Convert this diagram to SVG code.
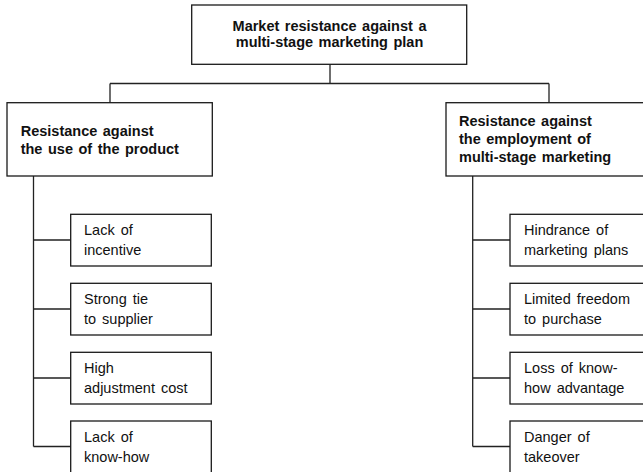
<svg xmlns="http://www.w3.org/2000/svg" width="643" height="472" viewBox="0 0 643 472">
<style>
.box{fill:#fff;stroke:#1a1a1a;stroke-width:1.3}
.con{fill:none;stroke:#222;stroke-width:1.3}
.b{font-family:"Liberation Sans",Arial,sans-serif;font-size:14.5px;font-weight:bold;fill:#111;word-spacing:1.5px}
.r{font-family:"Liberation Sans",Arial,sans-serif;font-size:14.5px;fill:#111;word-spacing:2px}
.c{text-anchor:middle}
</style>
<rect width="643" height="472" fill="#fff"/>
<g id="connectors">
<path class="con" d="M330,64.3V83.5M110,83.5H549M110,83.5V102.7M549,83.5V102.7"/>
<path class="con" d="M33.5,176V446.5M33.5,240H70.7M33.5,309H70.7M33.5,378H70.7M33.5,446.5H70.7"/>
<path class="con" d="M472.7,176V446.5M472.7,240H510M472.7,309H510M472.7,378H510M472.7,446.5H510"/>
</g>
<g id="root">
<rect class="box" x="191.7" y="5" width="275" height="59.3"/>
<text class="b c" x="329.5" y="30.5">Market resistance against a</text>
<text class="b c" x="329.5" y="47">multi-stage marketing plan</text>
</g>
<g id="use">
<rect class="box" x="7" y="102.7" width="205.3" height="73.3"/>
<text class="b" x="20.7" y="135.5">Resistance against</text>
<text class="b" x="20.7" y="153.5">the use of the product</text>
</g>
<g id="employment">
<rect class="box" x="446" y="102.7" width="220" height="73.3"/>
<text class="b" x="459" y="126">Resistance against</text>
<text class="b" x="459" y="144">the employment of</text>
<text class="b" x="459" y="162">multi-stage marketing</text>
</g>
<g id="l1">
<rect class="box" x="70.7" y="214.3" width="140.6" height="51.7"/>
<text class="r" x="84" y="235.3">Lack of</text>
<text class="r" x="84" y="255">incentive</text>
</g>
<g id="l2">
<rect class="box" x="70.7" y="283.3" width="140.6" height="51.7"/>
<text class="r" x="84" y="304.3">Strong tie</text>
<text class="r" x="84" y="324">to supplier</text>
</g>
<g id="l3">
<rect class="box" x="70.7" y="352.3" width="140.6" height="51.7"/>
<text class="r" x="84" y="373.3">High</text>
<text class="r" x="84" y="393">adjustment cost</text>
</g>
<g id="l4">
<rect class="box" x="70.7" y="421" width="140.6" height="52"/>
<text class="r" x="84" y="442">Lack of</text>
<text class="r" x="84" y="461.7">know-how</text>
</g>
<g id="r1">
<rect class="box" x="510" y="214.3" width="160" height="51.7"/>
<text class="r" x="524" y="235.3">Hindrance of</text>
<text class="r" x="524" y="255">marketing plans</text>
</g>
<g id="r2">
<rect class="box" x="510" y="283.3" width="160" height="51.7"/>
<text class="r" x="524" y="304.3">Limited freedom</text>
<text class="r" x="524" y="324">to purchase</text>
</g>
<g id="r3">
<rect class="box" x="510" y="352.3" width="160" height="51.7"/>
<text class="r" x="524" y="373.3">Loss of know-</text>
<text class="r" x="524" y="393">how advantage</text>
</g>
<g id="r4">
<rect class="box" x="510" y="421" width="160" height="52"/>
<text class="r" x="524" y="442">Danger of</text>
<text class="r" x="524" y="461.7">takeover</text>
</g>
</svg>
